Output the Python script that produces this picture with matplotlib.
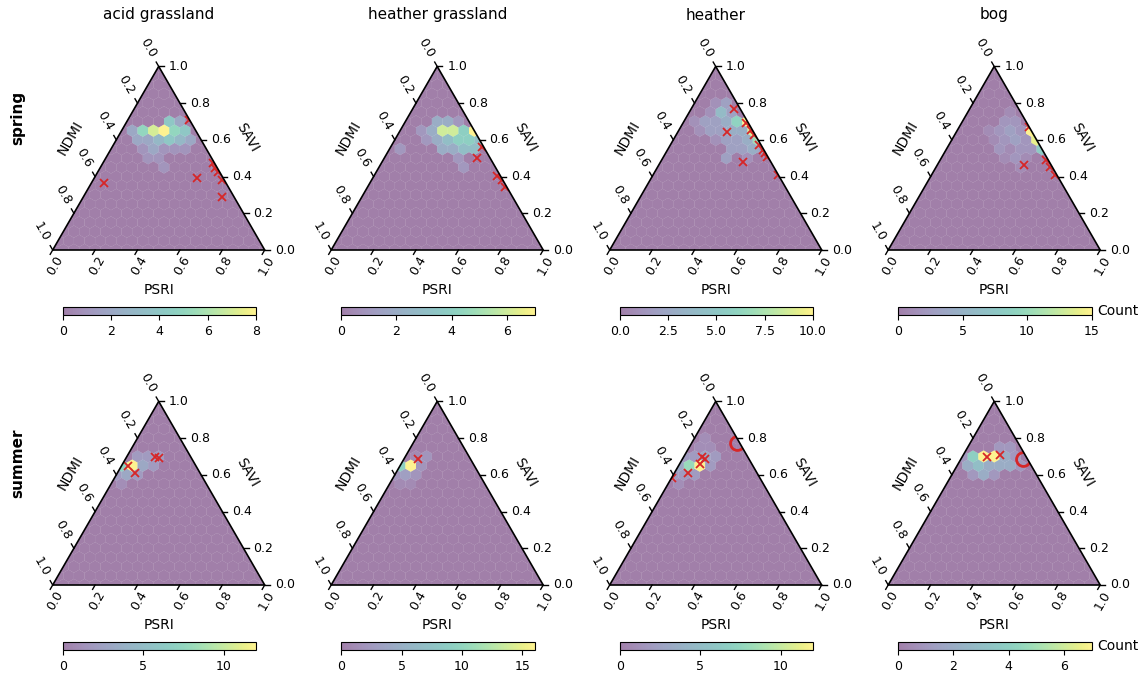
import numpy as np
import matplotlib.pyplot as plt
from matplotlib.patches import Polygon

H = np.sqrt(3) / 2
W_PX, H_PX = 1146, 677

seasons = ['spring', 'summer']
habitats = ['acid grassland', 'heather grassland', 'heather', 'bog']
edge_ticks = [0.0, 0.2, 0.4, 0.6, 0.8, 1.0]

# pixel clusters per habitat: PSRI and SAVI shares (NDMI = 1 - PSRI - SAVI), n = pixel count
spr_acid_psri = [.20, .25, .05, .10, .15, .20, .25, .30, .10, .15, .20, .25, .30, .35,
                 .15, .20, .25, .30, .35, .20, .25, .30]
spr_acid_savi = [.70, .70, .65, .65, .65, .65, .65, .65, .60, .60, .60, .60, .60, .60,
                 .55, .55, .55, .55, .55, .50, .50, .45]
spr_acid_n = [4, 2, 2, 5, 7, 8, 5, 4, 2, 2, 3, 4, 3, 2, 1, 2, 1, 1, 1, 1, 1, 1]

spr_hgrass_psri = [.15, .20, .25, .10, .15, .20, .25, .30, .35, .15, .20, .25, .30, .35, .40,
                   .05, .25, .30, .35, .40, .35, .40]
spr_hgrass_savi = [.70, .70, .70, .65, .65, .65, .65, .65, .65, .60, .60, .60, .60, .60, .60,
                   .55, .55, .55, .55, .55, .50, .45]
spr_hgrass_n = [2, 2, 1, 1, 2, 6, 6, 4, 7, 1, 2, 3, 4, 4, 3, 1, 2, 2, 3, 3, 1, 1]

spr_heath_psri = [.10, .15, .10, .15, .20, .05, .10, .15, .20, .25, .30, .10, .15, .20, .25, .30, .35,
                  .20, .25, .30, .35, .40, .30, .35, .40, .45, .30, .40]
spr_heath_savi = [.80, .80, .75, .75, .75, .70, .70, .70, .70, .70, .70, .65, .65, .65, .65, .65, .65,
                  .60, .60, .60, .60, .60, .55, .55, .55, .55, .50, .50]
spr_heath_n = [1, 2, 1, 4, 2, 1, 2, 2, 3, 6, 10, 1, 2, 2, 3, 3, 9, 1, 2, 2, 3, 7, 2, 2, 3, 2, 2, 1]

spr_bog_psri = [.20, .20, .25, .15, .20, .25, .30, .35, .20, .25, .30, .35, .40,
                .25, .30, .35, .40, .45, .30, .35, .40, .40]
spr_bog_savi = [.75, .70, .70, .65, .65, .65, .65, .65, .60, .60, .60, .60, .60,
                .55, .55, .55, .55, .55, .50, .50, .50, .45]
spr_bog_n = [1, 2, 2, 1, 2, 3, 2, 15, 1, 2, 3, 2, 14, 2, 1, 2, 2, 8, 1, 2, 1, 1]

sum_acid_psri = [.05, .10, .15, .00, .05, .10, .15, .00, .05, .10, .05]
sum_acid_savi = [.70, .70, .70, .65, .65, .65, .65, .60, .60, .60, .55]
sum_acid_n = [2, 2, 2, 7, 12, 3, 2, 2, 3, 2, 1]

sum_hgrass_psri = [.05, .10, .00, .05, .10, .00, .05, .10, .05, .10]
sum_hgrass_savi = [.70, .70, .65, .65, .65, .60, .60, .60, .55, .55]
sum_hgrass_n = [1, 2, 9, 16, 2, 2, 3, 2, 1, 1]

sum_heath_psri = [.05, .05, .10, .00, .05, .10, .15, .00, .05, .10, .15, .00, .05, .10, .05]
sum_heath_savi = [.80, .75, .75, .70, .70, .70, .70, .65, .65, .65, .65, .60, .60, .60, .55]
sum_heath_n = [1, 1, 1, 2, 2, 3, 2, 3, 8, 12, 2, 2, 2, 2, 1]

sum_bog_psri = [.15, .20, .00, .05, .10, .15, .20, .25, .05, .10, .15, .20, .25, .30, .10, .15, .20]
sum_bog_savi = [.75, .75, .70, .70, .70, .70, .70, .70, .65, .65, .65, .65, .65, .65, .60, .60, .60]
sum_bog_n = [1, 1, 1, 4, 7, 7, 2, 1, 2, 3, 2, 2, 2, 1, 1, 2, 1]

# reference samples (red crosses) and the flagged sample (red ring)
spr_acid_ref_psri = [.058, .482, .652, .522, .543, .568, .606, .29]
spr_acid_ref_savi = [.367, .394, .290, .472, .445, .426, .381, .71]
spr_hgrass_ref_psri = [.435, .58, .614, .647, .428]
spr_hgrass_ref_savi = [.503, .403, .381, .345, .563]
spr_heath_ref_psri = [.204, .234, .387, .30, .34, .37, .42, .45, .47, .49, .59]
spr_heath_ref_savi = [.768, .641, .481, .69, .654, .626, .572, .545, .527, .508, .408]
spr_bog_ref_psri = [.41, .33, .50, .54, .58]
spr_bog_ref_savi = [.463, .67, .49, .45, .41]
sum_acid_ref_psri = [.033, .084, .135, .157]
sum_acid_ref_savi = [.648, .608, .695, .692]
sum_hgrass_ref_psri = [.068]
sum_hgrass_ref_savi = [.685]
sum_heath_ref_psri = [.086, .107, .097, .067, .002]
sum_heath_ref_savi = [.699, .685, .659, .608, .581]
sum_bog_ref_psri = [.118, .175]
sum_bog_ref_savi = [.695, .708]
sum_heath_ring_psri = [.213]
sum_heath_ring_savi = [.772]
sum_bog_ring_psri = [.295]
sum_bog_ring_savi = [.685]

cbar_ticks = [[0, 2, 4, 6, 8], [0, 2, 4, 6], [0, 2.5, 5, 7.5, 10], [0, 5, 10, 15],
              [0, 5, 10], [0, 5, 10, 15], [0, 5, 10], [0, 2, 4, 6]]

panels = [
    (spr_acid_psri, spr_acid_savi, spr_acid_n, spr_acid_ref_psri, spr_acid_ref_savi, [], []),
    (spr_hgrass_psri, spr_hgrass_savi, spr_hgrass_n, spr_hgrass_ref_psri, spr_hgrass_ref_savi, [], []),
    (spr_heath_psri, spr_heath_savi, spr_heath_n, spr_heath_ref_psri, spr_heath_ref_savi, [], []),
    (spr_bog_psri, spr_bog_savi, spr_bog_n, spr_bog_ref_psri, spr_bog_ref_savi, [], []),
    (sum_acid_psri, sum_acid_savi, sum_acid_n, sum_acid_ref_psri, sum_acid_ref_savi, [], []),
    (sum_hgrass_psri, sum_hgrass_savi, sum_hgrass_n, sum_hgrass_ref_psri, sum_hgrass_ref_savi, [], []),
    (sum_heath_psri, sum_heath_savi, sum_heath_n, sum_heath_ref_psri, sum_heath_ref_savi,
     sum_heath_ring_psri, sum_heath_ring_savi),
    (sum_bog_psri, sum_bog_savi, sum_bog_n, sum_bog_ref_psri, sum_bog_ref_savi,
     sum_bog_ring_psri, sum_bog_ring_savi),
]


def tern(psri, savi):
    psri = np.asarray(psri, float)
    savi = np.asarray(savi, float)
    return psri + savi / 2, savi * H


def box(left, top, w, h):
    return [left / W_PX, 1 - (top + h) / H_PX, w / W_PX, h / H_PX]


def draw_frame(ax):
    px = 1 / 212  # data units per pixel
    L = 5 * px
    for v in edge_ticks:
        lab = f'{v:.1f}'
        # PSRI along the bottom
        ax.plot([v, v - 0.5 * L], [0, -H * L], color='k', lw=1, clip_on=False)
        ax.text(v + 2 * px, -16 * px, lab, rotation=60, ha='center', va='center',
                fontsize=9, clip_on=False)
        # SAVI along the right edge
        x0, y0 = 1 - v / 2, v * H
        ax.plot([x0, x0 + L], [y0, y0], color='k', lw=1, clip_on=False)
        ax.text(x0 + 10 * px, y0, lab, ha='left', va='center', fontsize=9, clip_on=False)
        # NDMI along the left edge
        x0, y0 = (1 - v) / 2, (1 - v) * H
        ax.plot([x0, x0 - 0.5 * L], [y0, y0 + H * L], color='k', lw=1, clip_on=False)
        ax.text(x0 - 11 * px, y0 + 18.5 * px, lab, rotation=-60, ha='center', va='center',
                fontsize=9, clip_on=False)
    ax.text(0.5, -40 * px, 'PSRI', ha='center', va='center', fontsize=10)
    ax.text(0.25 - 41 * px * H, H / 2 + 41 * px * 0.5, 'NDMI', rotation=60,
            ha='center', va='center', fontsize=10)
    ax.text(0.75 + 41 * px * H, H / 2 + 41 * px * 0.5, 'SAVI', rotation=-60,
            ha='center', va='center', fontsize=10)
    ax.add_patch(Polygon([[0, 0], [1, 0], [0.5, H]], closed=True, fill=False,
                         ec='black', lw=1.2, zorder=5, clip_on=False))


fig = plt.figure(figsize=(W_PX / 100, H_PX / 100), dpi=100)
red = '#d62728'

for k, (psri, savi, n, rp, rs, cp, cs) in enumerate(panels):
    row, col = divmod(k, 4)
    tri_top = 66.4 + 335 * row
    ax = fig.add_axes(box(52.7 + 278.5 * col, tri_top, 212, 183.6))
    ax.set_xlim(0, 1)
    ax.set_ylim(0, H)
    ax.axis('off')

    tri = Polygon([[0, 0], [1, 0], [0.5, H]], closed=True, transform=ax.transData)
    x, y = tern(np.repeat(psri, n), np.repeat(savi, n))
    hb = ax.hexbin(x, y, gridsize=(20, 10), extent=(0, 1, 0, H), cmap='viridis',
                   alpha=0.5, linewidths=0)
    hb.set_clip_path(tri)

    pts, = ax.plot(*tern(rp, rs), 'x', color=red, ms=6, mew=1.3, zorder=4)
    pts.set_clip_path(tri)
    if cp:
        ring, = ax.plot(*tern(cp, cs), 'o', mfc='none', mec=red, ms=10, mew=2, zorder=4)
        ring.set_clip_path(tri)

    draw_frame(ax)

    cax = fig.add_axes(box(62.7 + 278.5 * col, tri_top + 240.1, 193.3, 8.5))
    cb = fig.colorbar(hb, cax=cax, orientation='horizontal', ticks=cbar_ticks[k])
    cb.ax.tick_params(labelsize=9)
    if col == 3:
        fig.text(1097 / W_PX, 1 - (tri_top + 244.3) / H_PX, 'Count', ha='left',
                 va='center', fontsize=10)

for col, name in enumerate(habitats):
    fig.text((158.7 + 278.5 * col) / W_PX, 1 - 15 / H_PX, name, ha='center', va='center',
             fontsize=11)
for row, name in enumerate(seasons):
    fig.text(18 / W_PX, 1 - (118 + 345 * row) / H_PX, name, rotation=90, ha='center',
             va='center', fontsize=11, fontweight='bold')

fig.savefig('out.png', dpi=100)
